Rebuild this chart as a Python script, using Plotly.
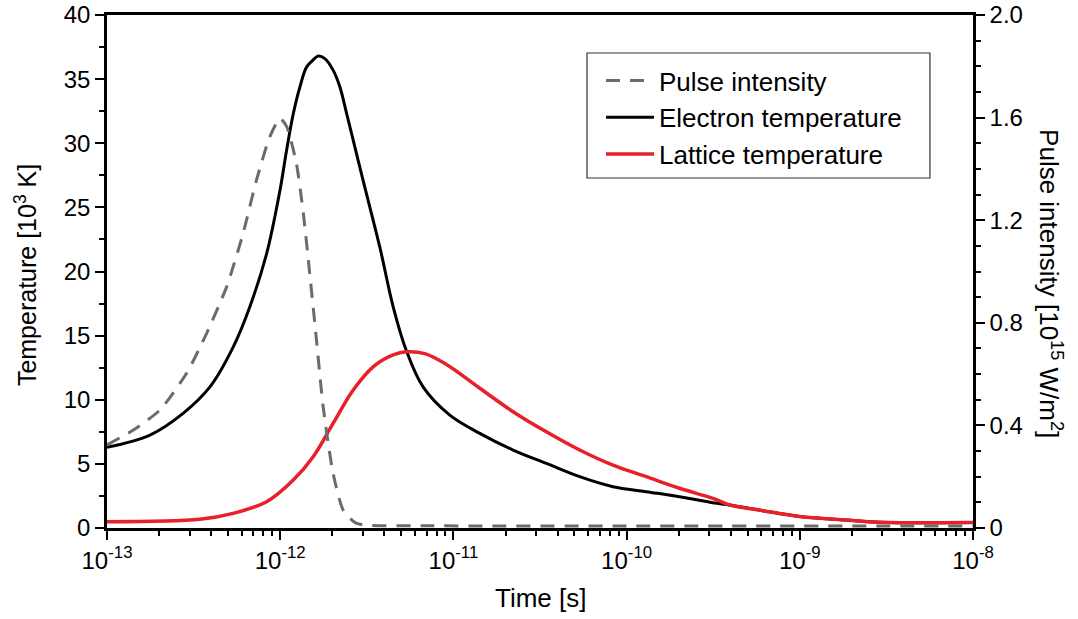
import plotly.graph_objects as go

# time axis in seconds
t_pulse = [1.0e-13, 1.42e-13, 2.02e-13, 2.88e-13, 3.76e-13, 4.91e-13, 6.11e-13, 7.30e-13,
           8.72e-13, 9.96e-13, 1.09e-12, 1.24e-12, 1.36e-12, 1.48e-12, 1.62e-12, 1.77e-12,
           2.02e-12, 2.31e-12, 2.76e-12, 7.6e-12, 1.0e-10, 1.0e-8]
pulse = [0.324, 0.382, 0.46, 0.603, 0.759, 0.941, 1.149, 1.357,
         1.526, 1.597, 1.565, 1.422, 1.227, 0.993, 0.733, 0.473,
         0.213, 0.07, 0.018, 0.009, 0.008, 0.008]

t_elec = [1.0e-13, 1.77e-13, 2.75e-13, 3.93e-13, 5.35e-13, 6.68e-13, 8.35e-13, 9.96e-13,
          1.09e-12, 1.19e-12, 1.30e-12, 1.42e-12, 1.55e-12, 1.66e-12, 1.81e-12, 2.02e-12,
          2.21e-12, 2.42e-12, 2.70e-12, 3.01e-12, 3.76e-12, 4.49e-12,
          5.36e-12, 6.68e-12, 9.53e-12, 1.42e-11, 2.21e-11, 3.44e-11, 5.36e-11, 8.34e-11,
          1.30e-10, 2.02e-10, 3.15e-10, 3.94e-10, 6.12e-10, 9.97e-10, 1.85e-9, 2.88e-9, 1.0e-8]
t_elec_k = [6.3, 7.25, 8.94, 11.0, 14.1, 17.25, 21.4, 26.3,
            29.5, 32.3, 34.4, 35.95, 36.5, 36.8, 36.6, 35.7,
            34.4, 32.3, 29.7, 27.1, 21.9, 17.25,
            13.8, 11.0, 8.8, 7.38, 6.08, 5.04, 4.0, 3.22,
            2.83, 2.44, 1.97, 1.79, 1.35, 0.9, 0.62, 0.45, 0.42]

t_latt = [1.0e-13, 3.44e-13, 5.35e-13, 8.35e-13, 1.19e-12, 1.55e-12, 2.02e-12, 2.64e-12,
          3.44e-12, 4.49e-12, 5.36e-12, 6.84e-12, 9.12e-12, 1.42e-11, 2.21e-11, 3.44e-11,
          5.36e-11, 8.34e-11, 1.30e-10, 2.02e-10, 3.15e-10, 3.94e-10, 6.12e-10, 9.97e-10,
          1.85e-9, 2.88e-9, 1.0e-8]
t_latt_k = [0.49, 0.68, 1.14, 2.05, 3.74, 5.56, 8.16, 10.76,
            12.57, 13.5, 13.74, 13.6, 12.75, 10.9, 9.07, 7.5,
            6.08, 4.9, 4.0, 3.1, 2.31, 1.79, 1.35, 0.9,
            0.62, 0.45, 0.42]

x_exps = [-13, -12, -11, -10, -9, -8]
y_left_ticks = [0, 5, 10, 15, 20, 25, 30, 35, 40]
y_right_ticks = [0, 0.4, 0.8, 1.2, 1.6, 2.0]
y_right_labels = ['0', '0.4', '0.8', '1.2', '1.6', '2.0']

FONT = 'Liberation Sans, Arial, sans-serif'

fig = go.Figure()
fig.add_trace(go.Scatter(
    x=t_pulse, y=pulse, yaxis='y2', name='Pulse intensity', mode='lines',
    line=dict(color='#6b6b6b', width=3, dash='14px,10px', shape='spline', smoothing=0.6)))
fig.add_trace(go.Scatter(
    x=t_elec, y=t_elec_k, name='Electron temperature', mode='lines',
    line=dict(color='black', width=3, shape='spline', smoothing=1.0)))
fig.add_trace(go.Scatter(
    x=t_latt, y=t_latt_k, name='Lattice temperature', mode='lines',
    line=dict(color='#e8202a', width=3.5, shape='spline', smoothing=1.0)))

minor_x = [m * 10.0 ** e for e in x_exps[:-1] for m in range(2, 10)]

fig.update_layout(
    width=1078, height=619,
    margin=dict(l=107, r=105, t=15, b=91),
    paper_bgcolor='white', plot_bgcolor='white',
    font=dict(family=FONT, size=24, color='black'),
    showlegend=True,
    legend=dict(x=0.5704, y=0.918, xanchor='left', yanchor='top',
                borderwidth=0, bgcolor='rgba(0,0,0,0)',
                font=dict(size=26), tracegroupgap=0, itemwidth=48),
    xaxis=dict(
        type='log', range=[-13, -8], automargin=False,
        tickmode='array', tickvals=[10.0 ** e for e in x_exps],
        ticktext=['10<sup>%d</sup>' % e for e in x_exps],
        ticks='outside', ticklen=9, tickwidth=2, tickcolor='black',
        minor=dict(tickvals=minor_x, ticks='outside', ticklen=5, tickwidth=2, tickcolor='black'),
        showline=True, linewidth=2.5, linecolor='black', mirror=True,
        showgrid=False, zeroline=False, ticklabeloverflow='allow',
    ),
    yaxis=dict(
        range=[0, 40], tickmode='array', tickvals=y_left_ticks, automargin=False,
        ticks='outside', ticklen=9, tickwidth=2, tickcolor='black',
        minor=dict(dtick=2.5, tick0=0, ticks='outside', ticklen=5, tickwidth=2, tickcolor='black'),
        showline=True, linewidth=2.5, linecolor='black',
        showgrid=False, zeroline=False, ticklabeloverflow='allow',
    ),
    yaxis2=dict(
        range=[0, 2.0], overlaying='y', side='right', automargin=False,
        tickmode='array', tickvals=y_right_ticks, ticktext=y_right_labels,
        ticks='outside', ticklen=9, tickwidth=2, tickcolor='black',
        minor=dict(dtick=0.1, tick0=0, ticks='outside', ticklen=5, tickwidth=2, tickcolor='black'),
        showline=True, linewidth=2.5, linecolor='black',
        showgrid=False, zeroline=False, ticklabeloverflow='allow',
    ),
    shapes=[
        dict(type='rect', xref='paper', yref='paper', x0=0.5543, x1=0.9503, y0=0.6823, y1=0.9259,
             line=dict(color='#333333', width=1.2), fillcolor='rgba(0,0,0,0)', layer='below'),
    ],
    annotations=[
        dict(text='Time [s]', xref='paper', yref='paper', x=0.5, y=-0.1365,
             xanchor='center', yanchor='middle', showarrow=False, font=dict(size=26)),
        dict(text='Temperature [10<sup>3</sup> K]', xref='paper', yref='paper', x=-0.0935, y=0.493,
             xanchor='center', yanchor='middle', textangle=-90, showarrow=False, font=dict(size=25)),
        dict(text='Pulse intensity [10<sup>15</sup> W/m<sup>2</sup>]', xref='paper', yref='paper',
             x=1.09, y=0.4756, xanchor='center', yanchor='middle', textangle=90, showarrow=False,
             font=dict(size=26)),
    ],
)

# drop the default 8px body margin so the figure fills the window exactly
fig.write_html("out.html", config={'displayModeBar': False},
               post_script="document.body.style.margin = '0';")
